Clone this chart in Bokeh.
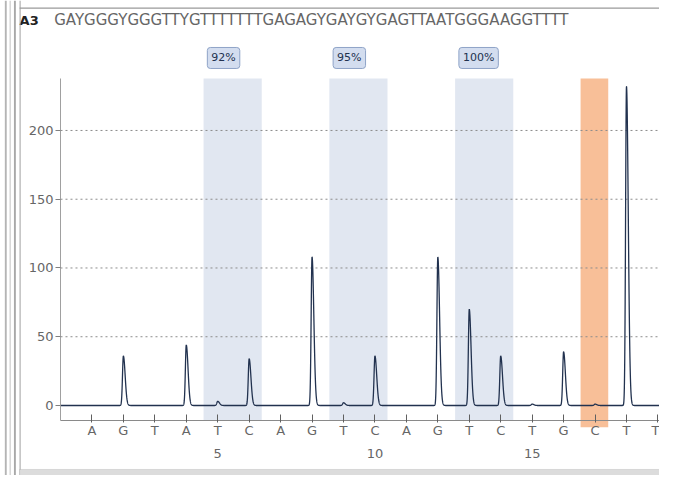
import numpy as np
from bokeh.plotting import figure
from bokeh.models import BoxAnnotation, Label, FixedTicker, LinearAxis, Range1d
from bokeh.embed import file_html
from bokeh.resources import INLINE

# ---------------- data ----------------
well_id = "A3"
sequence = "GAYGGGYGGGTTYGTTTTTTTGAGAGYGAYGYGAGTTAATGGGAAGGTTTT"
dispensation = ["A", "G", "T", "A", "T", "C", "A", "G", "T", "C",
                "A", "G", "T", "C", "T", "G", "C", "T", "T"]
positions = list(range(1, len(dispensation) + 1))
peak_heights = [0, 36, 0, 44, 3, 34, 0, 108, 2, 36,
                0, 108, 70, 36, 1, 39, 1, 232, 0]
cpg_start = [5, 9, 13]               # dispensation index of the T of each T/C pair
cpg_methylation = ["92%", "95%", "100%"]
control_pos = [17]                   # bisulfite control dispensation
y_ticks = [0, 50, 100, 150, 200]
x_number_ticks = [5, 10, 15]

FONT = "DejaVu Sans"

# plotting area (data units) inside the whole canvas
X0, X1 = 0.0, 19.05
Y0, Y1 = -10.9, 237.8

# ---------------- figure ----------------
p = figure(width=659, height=475, output_backend="svg", toolbar_location=None,
           x_range=Range1d(-1.908, 19.05), y_range=Range1d(-50.9, 294.5),
           min_border_left=0, min_border_right=0, min_border_top=0,
           min_border_bottom=0)
p.outline_line_color = None
p.background_fill_color = "white"
p.border_fill_color = "white"

# shaded bands
for s in cpg_start:
    p.add_layout(BoxAnnotation(left=s - 0.45, right=s + 1.4, top=Y1, bottom=Y0,
                               fill_color="#e1e7f1", fill_alpha=1, line_color=None,
                               level="image"))
for c in control_pos:
    p.add_layout(BoxAnnotation(left=c - 0.46, right=c + 0.42, top=Y1, bottom=Y0 - 5,
                               fill_color="#f8bf98", fill_alpha=1, line_color=None,
                               level="image"))

# horizontal dotted grid, limited to the plotting area
p.xgrid.grid_line_color = None
p.ygrid.grid_line_color = None
grid_vals = y_ticks[1:]
p.segment(x0=[X0] * len(grid_vals), y0=grid_vals, x1=[X1] * len(grid_vals),
          y1=grid_vals, line_color="#8c8c8c", line_dash="2 3", line_width=1)

# y axis
p.yaxis.fixed_location = X0
p.yaxis.bounds = (Y0, Y1)
p.yaxis.ticker = FixedTicker(ticks=y_ticks)
p.yaxis.axis_line_color = "#a0a0a0"
p.yaxis.major_tick_line_color = "#808080"
p.yaxis.major_tick_in = 0
p.yaxis.major_tick_out = 5
p.yaxis.minor_tick_line_color = None
p.yaxis.major_label_text_font = FONT
p.yaxis.major_label_text_font_size = "13px"
p.yaxis.major_label_text_color = "#666666"
p.yaxis.major_label_standoff = 2

# x axis (dispensation letters)
p.xaxis.fixed_location = Y0
p.xaxis.bounds = (X0, X1)
p.xaxis.ticker = FixedTicker(ticks=positions)
p.xaxis.major_label_overrides = {i: d for i, d in zip(positions, dispensation)}
p.xaxis.axis_line_color = "#8a8a8a"
p.xaxis.major_tick_line_color = "#606060"
p.xaxis.major_tick_in = 6
p.xaxis.major_tick_out = 2
p.xaxis.minor_tick_line_color = None
p.xaxis.major_label_text_font = FONT
p.xaxis.major_label_text_font_size = "13px"
p.xaxis.major_label_text_color = "#666666"
p.xaxis.major_label_standoff = 1

# second x axis (position numbers)
num_axis = LinearAxis(ticker=FixedTicker(ticks=x_number_ticks), fixed_location=Y0,
                      axis_line_color=None, major_tick_line_color=None,
                      minor_tick_line_color=None, major_tick_in=0, major_tick_out=0,
                      major_label_standoff=29, major_label_text_font=FONT,
                      major_label_text_font_size="13px",
                      major_label_text_color="#666666")
p.add_layout(num_axis, "below")

# pyrogram trace built from the peak heights
xs = np.linspace(X0, X1, 6000)
ys = np.zeros_like(xs)
for pos, h in zip(positions, peak_heights):
    dx = xs - pos
    width = np.where(dx < 0, 0.04, 0.08)
    ys += h * np.exp(-(dx / width) ** 2)
p.line(xs, ys, line_color="#22324f", line_width=1.3)

# methylation percentage boxes
for s, txt in zip(cpg_start, cpg_methylation):
    p.add_layout(Label(x=s - 0.33, y=252.7, text=txt, text_align="left",
                       text_baseline="middle", text_font=FONT,
                       text_font_size="11px", text_color="#22324f",
                       background_fill_color="#d3ddef", background_fill_alpha=1,
                       border_line_color="#8ea3c7", padding=4, border_radius=3))

# header
p.add_layout(Label(x=-1.3, y=280, text=well_id, text_align="left",
                   text_baseline="middle", text_font=FONT,
                   text_font_size="13px", text_font_style="bold", text_color="#222222"))
p.add_layout(Label(x=-0.2, y=280, text=sequence, text_align="left",
                   text_baseline="middle", text_font=FONT,
                   text_font_size="15px", text_color="#666666"))

# window chrome (left edge, top and bottom frame lines)
for l, r, col in [(-1.77, -1.71, "#b4b4b4"), (-1.62, -1.58, "#cfcfcf"),
                  (-1.48, -1.42, "#a8a8a8"), (-1.30, -1.27, "#9a9a9a")]:
    p.add_layout(BoxAnnotation(left=l, right=r, top=294.5, bottom=-50.9,
                               fill_color=col, fill_alpha=1, line_color=None))
p.add_layout(BoxAnnotation(left=-1.30, right=X1, top=289.5, bottom=288.5,
                           fill_color="#9a9a9a", fill_alpha=1, line_color=None))
p.add_layout(BoxAnnotation(left=-1.30, right=X1, top=-46.5, bottom=-50.9,
                           fill_color="#dcdcdc", fill_alpha=1, line_color="#a0a0a0"))

open("out.html", "w").write(file_html(p, INLINE))
